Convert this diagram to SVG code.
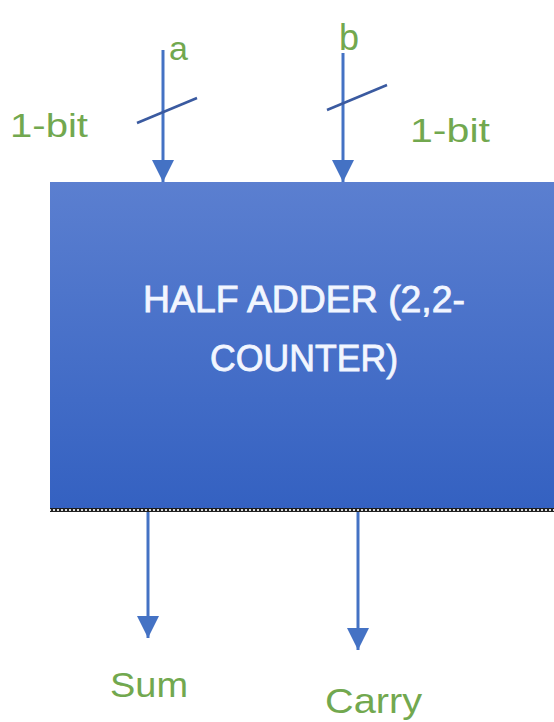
<svg xmlns="http://www.w3.org/2000/svg" width="554" height="722" viewBox="0 0 554 722">
<defs>
<linearGradient id="g" x1="0" y1="0" x2="0" y2="1">
<stop offset="0" stop-color="#5b7fd0"/>
<stop offset="1" stop-color="#3461c1"/>
</linearGradient>
<marker id="arr" viewBox="0 0 10 10" refX="10" refY="5" markerUnits="userSpaceOnUse" markerWidth="22" markerHeight="24" orient="auto">
<path d="M0,0 L10,5 L0,10 z" fill="#4472c4"/>
</marker>
<pattern id="dots" width="4" height="4" patternUnits="userSpaceOnUse">
<rect width="4" height="4" fill="#222"/>
<rect x="1" y="1" width="2" height="2" fill="#ddd"/>
</pattern>
<style>
.lbl{font-family:"Liberation Sans",Arial,sans-serif;fill:#72a84f}
.wire{stroke:#4472c4;stroke-width:3;fill:none}
.slash{stroke:#3a5aa0;stroke-width:2.5;fill:none}
.title{font-family:"Liberation Sans",Arial,sans-serif;fill:#f2f6ff;stroke:#f2f6ff;stroke-width:0.8;font-size:36px;text-anchor:middle}
</style>
</defs>
<g id="adder">
<rect x="50" y="182" width="504" height="327" fill="url(#g)"/>
<rect x="50" y="508" width="504" height="4" fill="url(#dots)"/>
<text class="title" x="304" y="312" textLength="322" lengthAdjust="spacingAndGlyphs">HALF ADDER (2,2-</text>
<text class="title" x="304" y="371" textLength="188" lengthAdjust="spacingAndGlyphs">COUNTER)</text>
</g>
<g id="connectors">
<line class="wire" x1="163" y1="50" x2="163" y2="182" marker-end="url(#arr)"/>
<line class="slash" x1="137" y1="123" x2="197" y2="98"/>
<line class="wire" x1="343" y1="53" x2="343" y2="182" marker-end="url(#arr)"/>
<line class="slash" x1="327" y1="110" x2="387" y2="85"/>
<line class="wire" x1="148" y1="512" x2="148" y2="638" marker-end="url(#arr)"/>
<line class="wire" x1="358" y1="512" x2="358" y2="650" marker-end="url(#arr)"/>
</g>
<g id="label-a"><text class="lbl" x="169" y="60" font-size="34">a</text></g>
<g id="label-b"><text class="lbl" x="339" y="50" font-size="36">b</text></g>
<g id="label-1bit-left"><text class="lbl" x="10" y="137" font-size="33" textLength="78" lengthAdjust="spacingAndGlyphs">1-bit</text></g>
<g id="label-1bit-right"><text class="lbl" x="410" y="142" font-size="33" textLength="80" lengthAdjust="spacingAndGlyphs">1-bit</text></g>
<g id="label-sum"><text class="lbl" x="110" y="697" font-size="35" textLength="78" lengthAdjust="spacingAndGlyphs">Sum</text></g>
<g id="label-carry"><text class="lbl" x="325" y="713" font-size="35" textLength="97" lengthAdjust="spacingAndGlyphs">Carry</text></g>
</svg>
